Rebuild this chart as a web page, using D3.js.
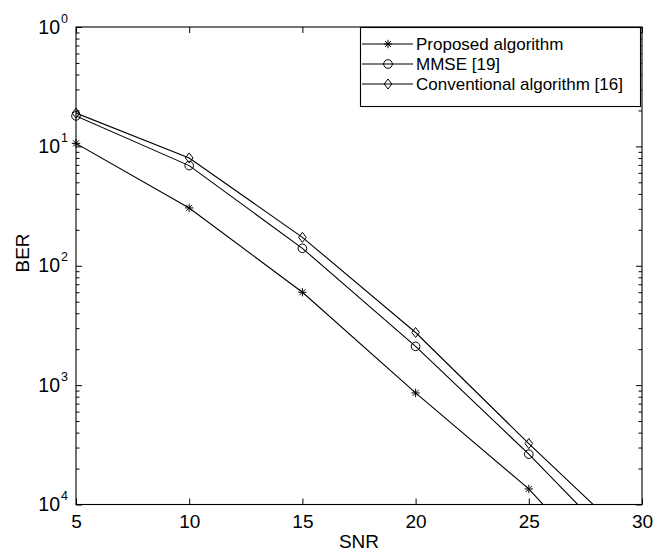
<!DOCTYPE html>
<html>
<head>
<meta charset="utf-8">
<script src="https://cdn.jsdelivr.net/npm/d3@7"></script>
<style>
  body { margin: 0; background: #fff; }
  svg { display: block; font-family: "Liberation Sans", Arial, sans-serif; }
  .line { fill: none; stroke: #000; stroke-width: 1.1; }
  .mark { fill: none; stroke: #000; stroke-width: 1; }
</style>
</head>
<body>
<div class="container"></div>
<script>
const WIDTH = 655;
const HEIGHT = 554;
const LEFT = 76;
const RIGHT = 642;
const TOP = 27;
const BOTTOM = 504.5;

// data
const snr = [5, 10, 15, 20, 25, 30];
const proposedBer = [0.106, 0.0305, 0.0060, 0.00086, 0.000135, 1.25e-5];
const mmseBer = [0.180, 0.069, 0.0140, 0.00211, 0.000264, 2.8e-5];
const conventionalBer = [0.190, 0.080, 0.0173, 0.00276, 0.000324, 4.1e-5];

const xTicks = [5, 10, 15, 20, 25, 30];
const yTicks = [1, 1e-1, 1e-2, 1e-3, 1e-4];
const yTickExponents = ["0", "1", "2", "3", "4"];
const seriesNames = ["Proposed algorithm", "MMSE [19]", "Conventional algorithm [16]"];
const seriesMarkers = ["star", "circle", "diamond"];

var xScale = d3.scaleLinear().domain([5, 30]).range([LEFT, RIGHT]);
var yScale = d3.scaleLog().domain([1e-4, 1]).range([BOTTOM, TOP]);

var translate = function (x, y) {
    return "translate(" + x + "," + y + ")";
};

var markerPath = function (type) {
    if (type === "star") {
        var a = 4.2, b = 3.0;
        return "M" + (-a) + ",0L" + a + ",0M0," + (-a) + "L0," + a +
            "M" + (-b) + "," + (-b) + "L" + b + "," + b +
            "M" + (-b) + "," + b + "L" + b + "," + (-b);
    }
    if (type === "diamond") {
        return "M0,-5L3.8,0L0,5L-3.8,0Z";
    }
    return d3.symbol().type(d3.symbolCircle).size(Math.PI * 4.3 * 4.3)();
};

var svg = d3.select(".container").append("svg")
    .attr("width", WIDTH)
    .attr("height", HEIGHT);

svg.append("defs").append("clipPath").attr("id", "plotclip")
    .append("rect")
    .attr("x", LEFT).attr("y", TOP)
    .attr("width", RIGHT - LEFT).attr("height", BOTTOM - TOP);

// box
svg.append("rect")
    .attr("x", LEFT).attr("y", TOP)
    .attr("width", RIGHT - LEFT).attr("height", BOTTOM - TOP)
    .attr("fill", "none").attr("stroke", "#000").attr("stroke-width", 1.1);

// x axis ticks bottom + top (inward)
var xBottom = d3.axisBottom(xScale).tickValues(xTicks).tickSizeInner(-6).tickSizeOuter(0).tickPadding(10);
var gx = svg.append("g").attr("transform", translate(0, BOTTOM)).call(xBottom);
gx.select(".domain").remove();
gx.selectAll("text").attr("font-size", 19).attr("fill", "#000").attr("font-family", "Liberation Sans, Arial, sans-serif");
gx.selectAll("line").attr("stroke", "#000");

var xTop = d3.axisTop(xScale).tickValues(xTicks).tickSizeInner(-6).tickSizeOuter(0).tickFormat("");
var gxt = svg.append("g").attr("transform", translate(0, TOP)).call(xTop);
gxt.select(".domain").remove();
gxt.selectAll("line").attr("stroke", "#000");

// y minor ticks
var minor = [];
for (var e = -4; e < 0; e++) {
    for (var m = 2; m <= 9; m++) minor.push(m * Math.pow(10, e));
}
var yLeft = d3.axisLeft(yScale).tickValues(yTicks).tickSizeInner(-6).tickSizeOuter(0).tickFormat("");
var gy = svg.append("g").attr("transform", translate(LEFT, 0)).call(yLeft);
gy.select(".domain").remove();
gy.selectAll("line").attr("stroke", "#000");

var yLeftMinor = d3.axisLeft(yScale).tickValues(minor).tickSizeInner(-3.5).tickSizeOuter(0).tickFormat("");
var gym = svg.append("g").attr("transform", translate(LEFT, 0)).call(yLeftMinor);
gym.select(".domain").remove();
gym.selectAll("line").attr("stroke", "#000");

var yRight = d3.axisRight(yScale).tickValues(yTicks).tickSizeInner(-6).tickSizeOuter(0).tickFormat("");
var gyr = svg.append("g").attr("transform", translate(RIGHT, 0)).call(yRight);
gyr.select(".domain").remove();
gyr.selectAll("line").attr("stroke", "#000");

var yRightMinor = d3.axisRight(yScale).tickValues(minor).tickSizeInner(-3.5).tickSizeOuter(0).tickFormat("");
var gyrm = svg.append("g").attr("transform", translate(RIGHT, 0)).call(yRightMinor);
gyrm.select(".domain").remove();
gyrm.selectAll("line").attr("stroke", "#000");

// y tick labels: 10 with superscript
var yLabels = svg.append("g");
yTicks.forEach(function (v, i) {
    var t = yLabels.append("text")
        .attr("x", 68)
        .attr("y", yScale(v) + 6.5)
        .attr("text-anchor", "end")
        .attr("font-size", 19.5);
    t.append("tspan").text("10");
    t.append("tspan").attr("font-size", 12.5).attr("dy", -11).attr("dx", 1).text(yTickExponents[i]);
});

// axis titles
svg.append("text")
    .attr("x", (LEFT + RIGHT) / 2)
    .attr("y", 548)
    .attr("text-anchor", "middle")
    .attr("font-size", 19)
    .text("SNR");

svg.append("text")
    .attr("transform", translate(29, 253) + " rotate(-90)")
    .attr("text-anchor", "middle")
    .attr("font-size", 19)
    .text("BER");

// series
var allSeries = [proposedBer, mmseBer, conventionalBer];
var line = d3.line()
    .x(function (d) { return xScale(d.x); })
    .y(function (d) { return yScale(d.y); });

allSeries.forEach(function (vals, k) {
    var pts = snr.map(function (s, i) { return { x: s, y: vals[i] }; });
    svg.append("path")
        .datum(pts)
        .attr("class", "line")
        .attr("clip-path", "url(#plotclip)")
        .attr("d", line);
    svg.append("g").selectAll("path")
        .data(pts.filter(function (d) { return d.y >= 1e-4; }))
        .enter()
        .append("path")
        .attr("class", "mark")
        .attr("d", markerPath(seriesMarkers[k]))
        .attr("transform", function (d) { return translate(xScale(d.x), yScale(d.y)); });
});

// legend
var legend = svg.append("g");
legend.append("rect")
    .attr("x", 360.5).attr("y", 27.5)
    .attr("width", 280).attr("height", 79)
    .attr("fill", "#fff").attr("stroke", "#000").attr("stroke-width", 1.1);

seriesNames.forEach(function (name, k) {
    var y = 44 + k * 20;
    legend.append("line")
        .attr("x1", 362).attr("x2", 413)
        .attr("y1", y).attr("y2", y)
        .attr("stroke", "#000").attr("stroke-width", 1.1);
    legend.append("path")
        .attr("class", "mark")
        .attr("d", markerPath(seriesMarkers[k]))
        .attr("transform", translate(388, y));
    legend.append("text")
        .attr("x", 416)
        .attr("y", y + 6)
        .attr("font-size", 17)
        .text(name);
});
</script>
</body>
</html>
